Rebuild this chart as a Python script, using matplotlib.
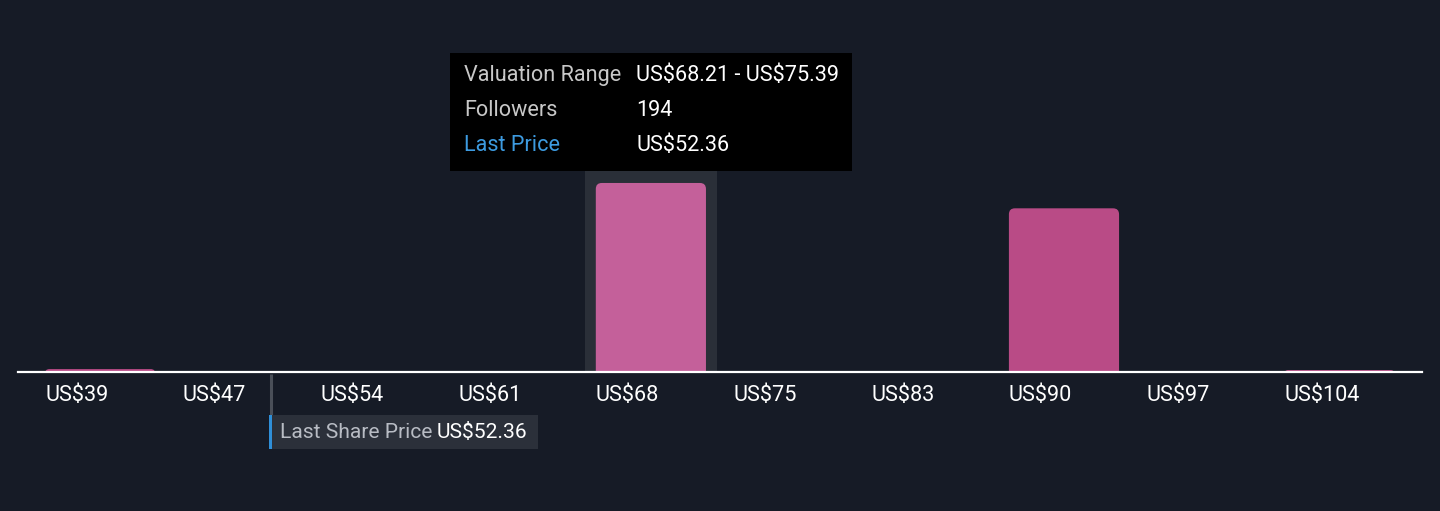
import matplotlib
matplotlib.use('Agg')
import matplotlib.pyplot as plt
from matplotlib.patches import FancyBboxPatch, Rectangle
from matplotlib import transforms

# ---- data ----
bin_starts = [39.49, 46.67, 53.85, 61.03, 68.21, 75.39, 82.57, 89.75, 96.93, 104.11]
tick_labels = ['US$39', 'US$47', 'US$54', 'US$61', 'US$68', 'US$75', 'US$83', 'US$90', 'US$97', 'US$104']
followers = [3, 0, 0, 0, 194, 0, 0, 168, 0, 2]
bin_width = 7.18
last_price = 52.36
hover_index = 4
tooltip_rows = [("Valuation Range", "US$68.21 - US$75.39"),
                ("Followers", "194"),
                ("Last Price", "US$52.36")]

plt.rcParams['font.family'] = ['Roboto', 'DejaVu Sans']
plt.rcParams['text.parse_math'] = False

W, H = 1440, 511
BG = '#161b26'
FS = 15.6
fig = plt.figure(figsize=(W / 100, H / 100), dpi=100)
fig.patch.set_facecolor(BG)

def fx(px):
    return px / W

def fy(py):
    return (H - py) / H

ax = fig.add_axes([fx(18), fy(372), fx(1422) - fx(18), fy(30) - fy(372)])
ax.set_facecolor('none')
ax.set_xlim(38.082, 111.29)
ax.set_ylim(0, 351)

for s in ['top', 'right', 'left']:
    ax.spines[s].set_visible(False)
ax.spines['bottom'].set_color('white')
ax.spines['bottom'].set_linewidth(1.6)
ax.spines['bottom'].set_zorder(5)
ax.set_yticks([])
ax.set_xticks(bin_starts)
ax.set_xticklabels(tick_labels, ha='left', color='white', fontsize=FS)
ax.tick_params(axis='x', length=0, pad=9.5)

# pixel scales
px_per_x = (1422 - 18) / (111.29 - 38.082)
px_per_y = (372 - 30) / 351.0

# highlight band for hovered bin
bw = 0.8 * bin_width
pad_x = 11 / px_per_x
band_tr = transforms.blended_transform_factory(ax.transData, fig.transFigure)
hx = bin_starts[hover_index]
ax.add_patch(Rectangle((hx - pad_x, fy(372)), bw + 2 * pad_x, fy(160) - fy(372),
                       transform=band_tr, facecolor='#2a2f38', edgecolor='none',
                       zorder=1, clip_on=False))

# bars
colors = ['#c4609a' if i == hover_index else '#b94b86' for i in range(len(followers))]
bars = ax.bar(bin_starts, followers, width=bw, align='edge', color=colors)
r_x = 6 / px_per_x
r_y = 6 / px_per_y
asp = r_y / r_x
for rect, c, v in zip(bars.patches, colors, followers):
    rect.set_visible(False)
    if v <= 0:
        continue
    x0, w, h = rect.get_x(), rect.get_width(), rect.get_height()
    tot = h + r_y
    rr = min(r_x, tot / asp / 2)
    p = FancyBboxPatch((x0, -r_y), w, tot,
                       boxstyle=f"round,pad=0,rounding_size={rr}",
                       mutation_aspect=asp, facecolor=c, edgecolor='none', zorder=2)
    ax.add_patch(p)

# last price marker (label drawn slightly left of the exact price position, as in the source)
def off_tr(dx):
    o = transforms.offset_copy(ax.transData, fig=fig, x=-22 + dx, y=0, units='dots')
    return transforms.blended_transform_factory(o, fig.transFigure)

ax.plot([last_price, last_price], [fy(374), fy(415)], transform=off_tr(1),
        color='#4a4f58', lw=2.2, clip_on=False, zorder=3, solid_capstyle='butt')
ax.add_patch(Rectangle((last_price, fy(449)), 268 / px_per_x, fy(415) - fy(449),
                       transform=off_tr(0), facecolor='#2b303a', edgecolor='none',
                       clip_on=False, zorder=3))
ax.add_patch(Rectangle((last_price, fy(449)), 3 / px_per_x, fy(415) - fy(449),
                       transform=off_tr(-1), facecolor='#2f8fd8', edgecolor='none',
                       clip_on=False, zorder=4))
ax.text(last_price, fy(432), "Last Share Price", transform=off_tr(10),
        color='#b8bcc4', fontsize=15.1, va='center', ha='left', zorder=5, clip_on=False)
ax.text(last_price, fy(432), f"US${last_price:.2f}", transform=off_tr(167),
        color='white', fontsize=15.1, va='center', ha='left', zorder=5, clip_on=False)

# tooltip
fig.add_artist(Rectangle((fx(450), fy(171)), fx(852) - fx(450), fy(53) - fy(171),
                         transform=fig.transFigure, facecolor='black',
                         edgecolor='none', zorder=10))
row_y = [75, 110, 145]
label_colors = ['#c8c8c8', '#c8c8c8', '#3d9be0']
for (lab, val), yy, lc in zip(tooltip_rows, row_y, label_colors):
    fig.text(fx(464), fy(yy), lab, color=lc, fontsize=FS, va='center', ha='left', zorder=11)
    fig.text(fx(636), fy(yy), val, color='white', fontsize=FS, va='center', ha='left', zorder=11)

fig.savefig('out.png', dpi=100, facecolor=BG)
